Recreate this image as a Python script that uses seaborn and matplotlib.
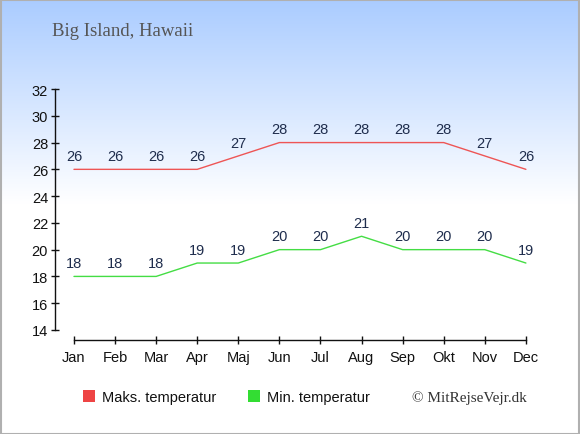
import numpy as np
import pandas as pd
import matplotlib
matplotlib.use("Agg")
import matplotlib.pyplot as plt
import seaborn as sns
from matplotlib.patches import Patch
from matplotlib.colors import LinearSegmentedColormap

# ----------------------------------------------------------
# Data
# ----------------------------------------------------------
months = ["Jan", "Feb", "Mar", "Apr", "Maj", "Jun",
          "Jul", "Aug", "Sep", "Okt", "Nov", "Dec"]
max_temp = [26, 26, 26, 26, 27, 28, 28, 28, 28, 28, 27, 26]
min_temp = [18, 18, 18, 19, 19, 20, 20, 21, 20, 20, 20, 19]
yticks = [14, 16, 18, 20, 22, 24, 26, 28, 30, 32]

max_name = "Maks. temperatur"
min_name = "Min. temperatur"

df = pd.DataFrame({
    "month": list(range(len(months))) * 2,
    "temp": max_temp + min_temp,
    "series": [max_name] * len(months) + [min_name] * len(months),
})

red = "#ee5555"
green = "#44dd44"
label_color = "#1f2d4d"

sns.set_style("white")
plt.rcParams["font.family"] = ["Liberation Sans", "DejaVu Sans"]

fig = plt.figure(figsize=(5.8, 4.35), dpi=100)

# background gradient (light blue on top, white further down)
bg = fig.add_axes([0, 0, 1, 1], zorder=0)
cmap = LinearSegmentedColormap.from_list("sky", [(0, "#aaccff"), (0.47, "#ffffff"), (1, "#ffffff")])
grad = np.linspace(0, 1, 256).reshape(-1, 1)
bg.imshow(grad, aspect="auto", cmap=cmap, extent=[0, 1, 0, 1], origin="upper")
bg.set_xlim(0, 1)
bg.set_ylim(0, 1)
bg.axis("off")
bg.add_patch(plt.Rectangle((0.001, 0.001), 0.998, 0.997, fill=False,
                           edgecolor="#b0b0b0", lw=1.5, transform=bg.transAxes))

ax = fig.add_axes([0.0948, 0.2161, 0.836, 0.60], zorder=1)
ax.patch.set_alpha(0)

sns.lineplot(data=df, x="month", y="temp", hue="series",
             palette={max_name: red, min_name: green},
             linewidth=1.0, legend=False, ax=ax)

for vals in (max_temp, min_temp):
    for i, v in enumerate(vals):
        ax.annotate(str(v), (i, v), xytext=(0, 9.5), textcoords="offset points",
                    ha="center", va="center", fontsize=10.5, color=label_color)

ax.set_xlim(-0.462, 11.34)
ax.set_ylim(13.25, 32.75)
ax.set_xticks(range(len(months)))
ax.set_xticklabels(months)
ax.set_yticks(yticks)
ax.set_xlabel("")
ax.set_ylabel("")
ax.tick_params(axis="both", bottom=True, left=True, direction="inout", length=6, width=1,
               labelsize=10.5, colors="#111111", pad=2)
ax.tick_params(axis="x", pad=4)

for s in ("top", "right"):
    ax.spines[s].set_visible(False)
ax.spines["left"].set_bounds(14, 32)
ax.spines["bottom"].set_bounds(0, 11)
for s in ("left", "bottom"):
    ax.spines[s].set_color("#111111")
    ax.spines[s].set_linewidth(1)

# title and credit
fig.text(52 / 580, 1 - 32 / 435, "Big Island, Hawaii", family=["Liberation Serif", "DejaVu Serif"],
         fontsize=13.5, color="#555555", ha="left", va="center")
fig.text(527 / 580, 1 - 398 / 435, "\u00a9 MitRejseVejr.dk", family=["Liberation Serif", "DejaVu Serif"],
         fontsize=11, color="#333333", ha="right", va="center")

handles = [Patch(facecolor="#ee4444", edgecolor="none", label=max_name),
           Patch(facecolor="#33dd33", edgecolor="none", label=min_name)]
fig.legend(handles=handles, loc="center left", bbox_to_anchor=(70 / 580, 1 - 398 / 435),
           ncol=2, frameon=False, fontsize=10.5, handlelength=0.8, handleheight=0.8,
           handletextpad=0.5, columnspacing=2.2, labelcolor="#111111")

fig.savefig("out.png", dpi=100)
